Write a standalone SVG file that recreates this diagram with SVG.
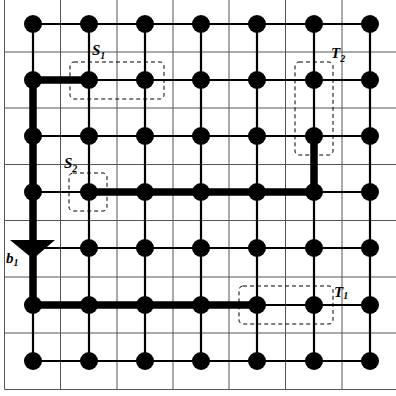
<svg xmlns="http://www.w3.org/2000/svg" width="396" height="396" viewBox="0 0 396 396">
<style>
.grid line{stroke:#555;stroke-width:1}
.edge{stroke:#000;stroke-width:2.2;fill:none}
.thick{stroke:#000;stroke-width:7.5;fill:none;stroke-linejoin:miter}
.node circle{fill:#000}
.box{fill:none;stroke:#000;stroke-width:1;stroke-dasharray:4 3}
.lbl{font-family:"Liberation Serif","Times New Roman",serif;font-style:italic;font-weight:bold;font-size:15px;fill:#000}
.sub{font-size:10px}
</style>
<rect width="396" height="396" fill="#fff"/>
<g class="grid">
<line x1="4.5" y1="0" x2="4.5" y2="389.5"/>
<line x1="60.5" y1="0" x2="60.5" y2="389.5"/>
<line x1="117" y1="0" x2="117" y2="389.5"/>
<line x1="173" y1="0" x2="173" y2="389.5"/>
<line x1="229" y1="0" x2="229" y2="389.5"/>
<line x1="285.5" y1="0" x2="285.5" y2="389.5"/>
<line x1="342" y1="0" x2="342" y2="389.5"/>
<line x1="4.5" y1="52" x2="396" y2="52"/>
<line x1="4.5" y1="108" x2="396" y2="108"/>
<line x1="4.5" y1="164.5" x2="396" y2="164.5"/>
<line x1="4.5" y1="220.5" x2="396" y2="220.5"/>
<line x1="4.5" y1="277" x2="396" y2="277"/>
<line x1="4.5" y1="333" x2="396" y2="333"/>
<line x1="4.5" y1="389.5" x2="396" y2="389.5"/>
</g>
<g id="connectors">
<path class="edge" d="M33,24H370M33,80H370M33,136H370M33,192H370M33,248H370M33,305H370M33,361H370"/>
<path class="edge" d="M33,24V361M89,24V361M145,24V361M201,24V361M257,24V361M314,24V361M370,24V361"/>
<path class="thick" d="M89,80H33V305H257"/>
<path class="thick" d="M89,192H314V136"/>
<polygon points="10,240 55,240 33,259" fill="#000"/>
</g>
<g id="nodes" class="node">
<g id="n00"><circle cx="33" cy="24" r="9"/></g><g id="n10"><circle cx="89" cy="24" r="9"/></g><g id="n20"><circle cx="145" cy="24" r="9"/></g><g id="n30"><circle cx="201" cy="24" r="9"/></g><g id="n40"><circle cx="257" cy="24" r="9"/></g><g id="n50"><circle cx="314" cy="24" r="9"/></g><g id="n60"><circle cx="370" cy="24" r="9"/></g>
<g id="n01"><circle cx="33" cy="80" r="9"/></g><g id="n11"><circle cx="89" cy="80" r="9"/></g><g id="n21"><circle cx="145" cy="80" r="9"/></g><g id="n31"><circle cx="201" cy="80" r="9"/></g><g id="n41"><circle cx="257" cy="80" r="9"/></g><g id="n51"><circle cx="314" cy="80" r="9"/></g><g id="n61"><circle cx="370" cy="80" r="9"/></g>
<g id="n02"><circle cx="33" cy="136" r="9"/></g><g id="n12"><circle cx="89" cy="136" r="9"/></g><g id="n22"><circle cx="145" cy="136" r="9"/></g><g id="n32"><circle cx="201" cy="136" r="9"/></g><g id="n42"><circle cx="257" cy="136" r="9"/></g><g id="n52"><circle cx="314" cy="136" r="9"/></g><g id="n62"><circle cx="370" cy="136" r="9"/></g>
<g id="n03"><circle cx="33" cy="192" r="9"/></g><g id="n13"><circle cx="89" cy="192" r="9"/></g><g id="n23"><circle cx="145" cy="192" r="9"/></g><g id="n33"><circle cx="201" cy="192" r="9"/></g><g id="n43"><circle cx="257" cy="192" r="9"/></g><g id="n53"><circle cx="314" cy="192" r="9"/></g><g id="n63"><circle cx="370" cy="192" r="9"/></g>
<g id="n14"><circle cx="89" cy="248" r="9"/></g><g id="n24"><circle cx="145" cy="248" r="9"/></g><g id="n34"><circle cx="201" cy="248" r="9"/></g><g id="n44"><circle cx="257" cy="248" r="9"/></g><g id="n54"><circle cx="314" cy="248" r="9"/></g><g id="n64"><circle cx="370" cy="248" r="9"/></g>
<g id="n05"><circle cx="33" cy="305" r="9"/></g><g id="n15"><circle cx="89" cy="305" r="9"/></g><g id="n25"><circle cx="145" cy="305" r="9"/></g><g id="n35"><circle cx="201" cy="305" r="9"/></g><g id="n45"><circle cx="257" cy="305" r="9"/></g><g id="n55"><circle cx="314" cy="305" r="9"/></g><g id="n65"><circle cx="370" cy="305" r="9"/></g>
<g id="n06"><circle cx="33" cy="361" r="9"/></g><g id="n16"><circle cx="89" cy="361" r="9"/></g><g id="n26"><circle cx="145" cy="361" r="9"/></g><g id="n36"><circle cx="201" cy="361" r="9"/></g><g id="n46"><circle cx="257" cy="361" r="9"/></g><g id="n56"><circle cx="314" cy="361" r="9"/></g><g id="n66"><circle cx="370" cy="361" r="9"/></g>
</g>
<g id="regions">
<rect class="box" x="70" y="62" width="94" height="37" rx="4"/>
<rect class="box" x="69" y="173" width="38" height="38" rx="4"/>
<rect class="box" x="295" y="62" width="38" height="93" rx="4"/>
<rect class="box" x="239" y="286" width="94" height="38" rx="4"/>
</g>
<g id="labels" class="lbl">
<text x="92" y="55">S<tspan class="sub" dy="4" dx="0">1</tspan></text>
<text x="64" y="168">S<tspan class="sub" dy="4" dx="0">2</tspan></text>
<text x="331" y="58">T<tspan class="sub" dy="4" dx="0">2</tspan></text>
<text x="334" y="297">T<tspan class="sub" dy="2" dx="0">1</tspan></text>
<text x="6" y="263">b<tspan class="sub" dy="3" dx="0">1</tspan></text>
</g>
</svg>
